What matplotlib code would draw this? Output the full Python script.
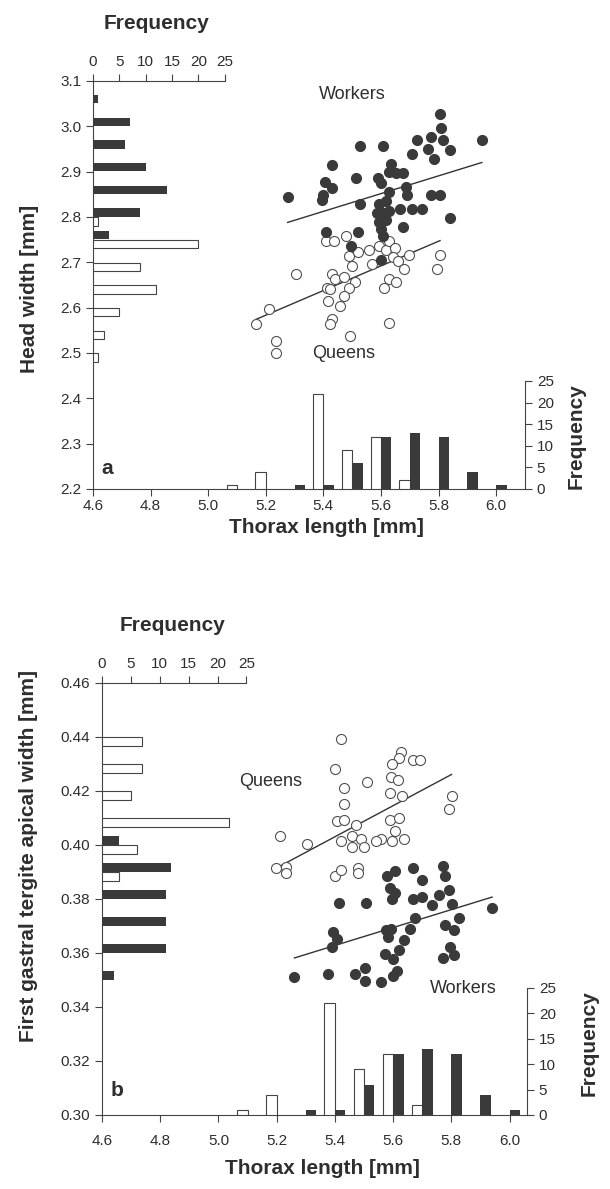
import numpy as np
import matplotlib.pyplot as plt

plt.rcParams['font.family'] = ['Liberation Sans', 'DejaVu Sans']

DARK = '#3a3a3a'
EDGE = '#444444'
TEXT = '#2e2e2e'

# ---- thorax length histogram (same for both panels) ----
thorax_bins = np.array([5.1, 5.2, 5.3, 5.4, 5.5, 5.6, 5.7, 5.8, 5.9, 6.0])
thorax_workers = np.array([0, 0, 1, 1, 6, 12, 13, 12, 4, 1])
thorax_queens = np.array([1, 4, 0, 22, 9, 12, 2, 0, 0, 0])

# ---- panel a: head width ----
head_bins = np.array([2.50, 2.55, 2.60, 2.65, 2.70, 2.75, 2.80, 2.85, 2.90, 2.95, 3.00, 3.05])
head_workers = np.array([0, 0, 0, 0, 0, 3, 9, 14, 10, 6, 7, 1])
head_queens = np.array([1, 2, 5, 12, 9, 20, 1, 0, 0, 0, 0, 0])

a_workers_x = [5.805, 5.81, 5.775, 5.725, 5.816, 5.95, 5.526, 5.607, 5.762, 5.84,
               5.707, 5.783, 5.43, 5.635, 5.629, 5.677, 5.513, 5.589, 5.405, 5.43,
               5.6, 5.686, 5.276, 5.399, 5.396, 5.627, 5.689, 5.775, 5.805, 5.526,
               5.617, 5.665, 5.707, 5.744, 5.607, 5.629, 5.84, 5.593, 5.617, 5.677,
               5.408, 5.52, 5.6, 5.607, 5.496, 5.599, 5.652, 5.593, 5.587]
a_workers_y = [3.027, 2.996, 2.977, 2.97, 2.97, 2.97, 2.957, 2.957, 2.95, 2.948,
               2.938, 2.927, 2.915, 2.918, 2.9, 2.898, 2.886, 2.886, 2.878, 2.864,
               2.876, 2.867, 2.845, 2.848, 2.838, 2.856, 2.848, 2.848, 2.848, 2.829,
               2.835, 2.817, 2.817, 2.817, 2.809, 2.813, 2.798, 2.789, 2.793, 2.778,
               2.767, 2.767, 2.774, 2.758, 2.735, 2.705, 2.898, 2.829, 2.809]
a_queens_x = [5.408, 5.437, 5.477, 5.49, 5.498, 5.52, 5.559, 5.593, 5.617, 5.629,
              5.647, 5.641, 5.659, 5.696, 5.68, 5.805, 5.796, 5.568, 5.305, 5.429,
              5.441, 5.472, 5.508, 5.49, 5.411, 5.423, 5.472, 5.417, 5.459, 5.629,
              5.611, 5.651, 5.429, 5.423, 5.629, 5.211, 5.166, 5.494, 5.236, 5.236]
a_queens_y = [2.747, 2.747, 2.757, 2.713, 2.693, 2.723, 2.727, 2.735, 2.727, 2.747,
              2.731, 2.712, 2.704, 2.716, 2.685, 2.716, 2.685, 2.696, 2.674, 2.674,
              2.663, 2.667, 2.656, 2.644, 2.644, 2.641, 2.626, 2.615, 2.604, 2.663,
              2.644, 2.656, 2.575, 2.565, 2.566, 2.596, 2.565, 2.538, 2.526, 2.499]
a_workers_fit = (0.196, 1.754)   # slope, intercept
a_queens_fit = (0.272, 1.169)

# ---- panel b: first gastral tergite apical width ----
gaster_bins = np.array([0.35, 0.36, 0.37, 0.38, 0.39, 0.40, 0.41, 0.42, 0.43, 0.44])
gaster_workers = np.array([2, 11, 11, 11, 12, 3, 0, 0, 0, 0])
gaster_queens = np.array([0, 0, 0, 0, 3, 6, 22, 5, 7, 7])

b_workers_x = [5.606, 5.579, 5.669, 5.7, 5.77, 5.78, 5.588, 5.606, 5.596, 5.669,
               5.7, 5.732, 5.757, 5.792, 5.801, 5.94, 5.413, 5.508, 5.676, 5.826,
               5.395, 5.409, 5.39, 5.576, 5.594, 5.582, 5.638, 5.659, 5.78, 5.808,
               5.571, 5.619, 5.6, 5.77, 5.795, 5.808, 5.261, 5.378, 5.47, 5.505,
               5.505, 5.558, 5.6, 5.612]
b_workers_y = [0.3904, 0.3885, 0.3914, 0.3872, 0.3923, 0.3885, 0.3842, 0.3821, 0.38, 0.38,
               0.3807, 0.3777, 0.3814, 0.3833, 0.3783, 0.3767, 0.3787, 0.3787, 0.3728, 0.3728,
               0.3678, 0.3653, 0.3622, 0.3684, 0.369, 0.3659, 0.3647, 0.369, 0.3703, 0.3684,
               0.3597, 0.361, 0.3578, 0.358, 0.3622, 0.3592, 0.351, 0.3522, 0.3522, 0.3545,
               0.3498, 0.3492, 0.3516, 0.3533]
b_queens_x = [5.421, 5.628, 5.619, 5.669, 5.691, 5.596, 5.4, 5.594, 5.616, 5.511,
              5.43, 5.588, 5.629, 5.43, 5.801, 5.792, 5.407, 5.43, 5.588, 5.619,
              5.472, 5.211, 5.303, 5.422, 5.459, 5.491, 5.459, 5.499, 5.559, 5.596,
              5.638, 5.606, 5.542, 5.198, 5.233, 5.233, 5.401, 5.422, 5.48, 5.48]
b_queens_y = [0.4391, 0.4346, 0.4323, 0.4313, 0.4313, 0.4299, 0.4281, 0.4252, 0.424, 0.4233,
              0.421, 0.4193, 0.418, 0.4153, 0.418, 0.4133, 0.4089, 0.4093, 0.4093, 0.41,
              0.4073, 0.4033, 0.4004, 0.4016, 0.4033, 0.4023, 0.3994, 0.3994, 0.4023, 0.4013,
              0.4023, 0.4053, 0.4013, 0.3913, 0.3917, 0.3898, 0.3885, 0.3907, 0.3914, 0.3898]
b_workers_fit = (0.0332, 0.1835)
b_queens_fit = (0.0576, 0.0920)


def draw_panel(ax, ymin, ymax, ystep, yfmt, xmax, ylabel, ylabel_pos, letter, letter_pos,
               points, fits, ybins, ycounts, ybar, xhist_max, yhist_max,
               top_label_pos, right_label_pos, xlabel_pos, names, xpad):
    """Draws one panel: scatter with fit lines plus marginal histograms"""
    wx, wy, qx, qy = points
    ax.scatter(qx, qy, s=52, facecolor='white', edgecolor='#505050', linewidths=0.8, zorder=3)
    ax.scatter(wx, wy, s=52, facecolor=DARK, edgecolor=DARK, linewidths=0.8, zorder=4)
    for xs, (m, c) in zip([wx, qx], fits):
        xx = np.array([min(xs), max(xs)])
        ax.plot(xx, m * xx + c, color='#333333', lw=1.0, zorder=2)

    ax.set_xlim(4.6, xmax)
    ax.set_ylim(ymin, ymax)
    ax.set_xticks(np.arange(4.6, 6.01, 0.2))
    ax.set_xticklabels([f'{v:.1f}' for v in np.arange(4.6, 6.01, 0.2)])
    yt = np.arange(ymin, ymax + ystep / 2, ystep)
    ax.set_yticks(yt)
    ax.set_yticklabels([yfmt.format(v) for v in yt])
    ax.spines[['top', 'right']].set_visible(False)

    # left histogram along y
    ax_top = ax.twiny()
    yw, yq = ycounts
    off, h = ybar
    m = yw > 0
    ax_top.barh(ybins[m] + off, yw[m], height=h, color=DARK, lw=0)
    m = yq > 0
    ax_top.barh(ybins[m] - off, yq[m], height=h, facecolor='white', edgecolor=EDGE, lw=0.8)
    ax_top.set_xlim(0, xhist_max)
    ax_top.set_xticks(range(0, 26, 5))
    ax_top.spines[['bottom', 'left', 'right']].set_visible(False)
    ax_top.spines['top'].set_bounds(0, 25)
    ax_top.text(*top_label_pos, 'Frequency', transform=ax.transAxes, ha='center', va='center',
                fontsize=15, fontweight='bold', color=TEXT)

    # bottom histogram along x
    ax_right = ax.twinx()
    ax_right.bar(thorax_bins[thorax_queens > 0] - 0.018, thorax_queens[thorax_queens > 0],
                 width=0.036, facecolor='white', edgecolor=EDGE, lw=0.8)
    ax_right.bar(thorax_bins[thorax_workers > 0] + 0.018, thorax_workers[thorax_workers > 0],
                 width=0.036, color=DARK, lw=0)
    ax_right.set_ylim(0, yhist_max)
    ax_right.set_yticks(range(0, 26, 5))
    ax_right.spines[['bottom', 'left', 'top']].set_visible(False)
    ax_right.spines['right'].set_bounds(0, 25)
    ax_right.text(*right_label_pos, 'Frequency', transform=ax.transAxes, ha='center', va='center',
                  rotation=90, fontsize=15, fontweight='bold', color=TEXT)

    for a in (ax, ax_top, ax_right):
        a.tick_params(direction='out', length=5, width=0.8, labelsize=11,
                      colors='#444444', labelcolor=TEXT)
        for s in a.spines.values():
            s.set_color('#444444')
            s.set_linewidth(0.8)
    ax.tick_params(axis='x', pad=xpad)

    ax.text(*ylabel_pos, ylabel, transform=ax.transAxes, rotation=90, ha='center', va='center',
            fontsize=15, fontweight='bold', color=TEXT)
    ax.text(*xlabel_pos, 'Thorax length [mm]', transform=ax.transAxes, ha='center', va='center',
            fontsize=15, fontweight='bold', color=TEXT)
    ax.text(*letter_pos, letter, transform=ax.transAxes, ha='center', va='center',
            fontsize=15, fontweight='bold', color=TEXT)
    for name, pos in names:
        ax.text(*pos, name, ha='center', va='center', fontsize=13, color=TEXT, zorder=5)


fig = plt.figure(figsize=(6.1, 11.89), dpi=100)
ax_a = fig.add_axes([93 / 610, 1 - 489 / 1189, 432 / 610, 408 / 1189])
ax_b = fig.add_axes([102 / 610, 1 - 1115 / 1189, 425 / 610, 432 / 1189])

draw_panel(ax_a, 2.2, 3.1, 0.1, '{:.1f}', 6.1, 'Head width [mm]', (-0.146, 0.49), 'a', (0.033, 0.05),
           (a_workers_x, a_workers_y, a_queens_x, a_queens_y), (a_workers_fit, a_queens_fit),
           head_bins, (head_workers, head_queens), (0.01, 0.018), 25 / 0.305, 25 / 0.265,
           (0.148, 1.14), (1.118, 0.13), (0.54, -0.094),
           [('Workers', (5.50, 3.07)), ('Queens', (5.47, 2.50))], 2.5)

draw_panel(ax_b, 0.30, 0.46, 0.02, '{:.2f}', 6.06, 'First gastral tergite apical width [mm]',
           (-0.174, 0.60), 'b', (0.035, 0.056),
           (b_workers_x, b_workers_y, b_queens_x, b_queens_y), (b_workers_fit, b_queens_fit),
           gaster_bins, (gaster_workers, gaster_queens), (0.0017, 0.0031), 25 / 0.34, 25 / 0.294,
           (0.167, 1.132), (1.146, 0.167), (0.518, -0.125),
           [('Queens', (5.18, 0.4234)), ('Workers', (5.84, 0.3467))], 9)

fig.savefig('out.png', dpi=100)
